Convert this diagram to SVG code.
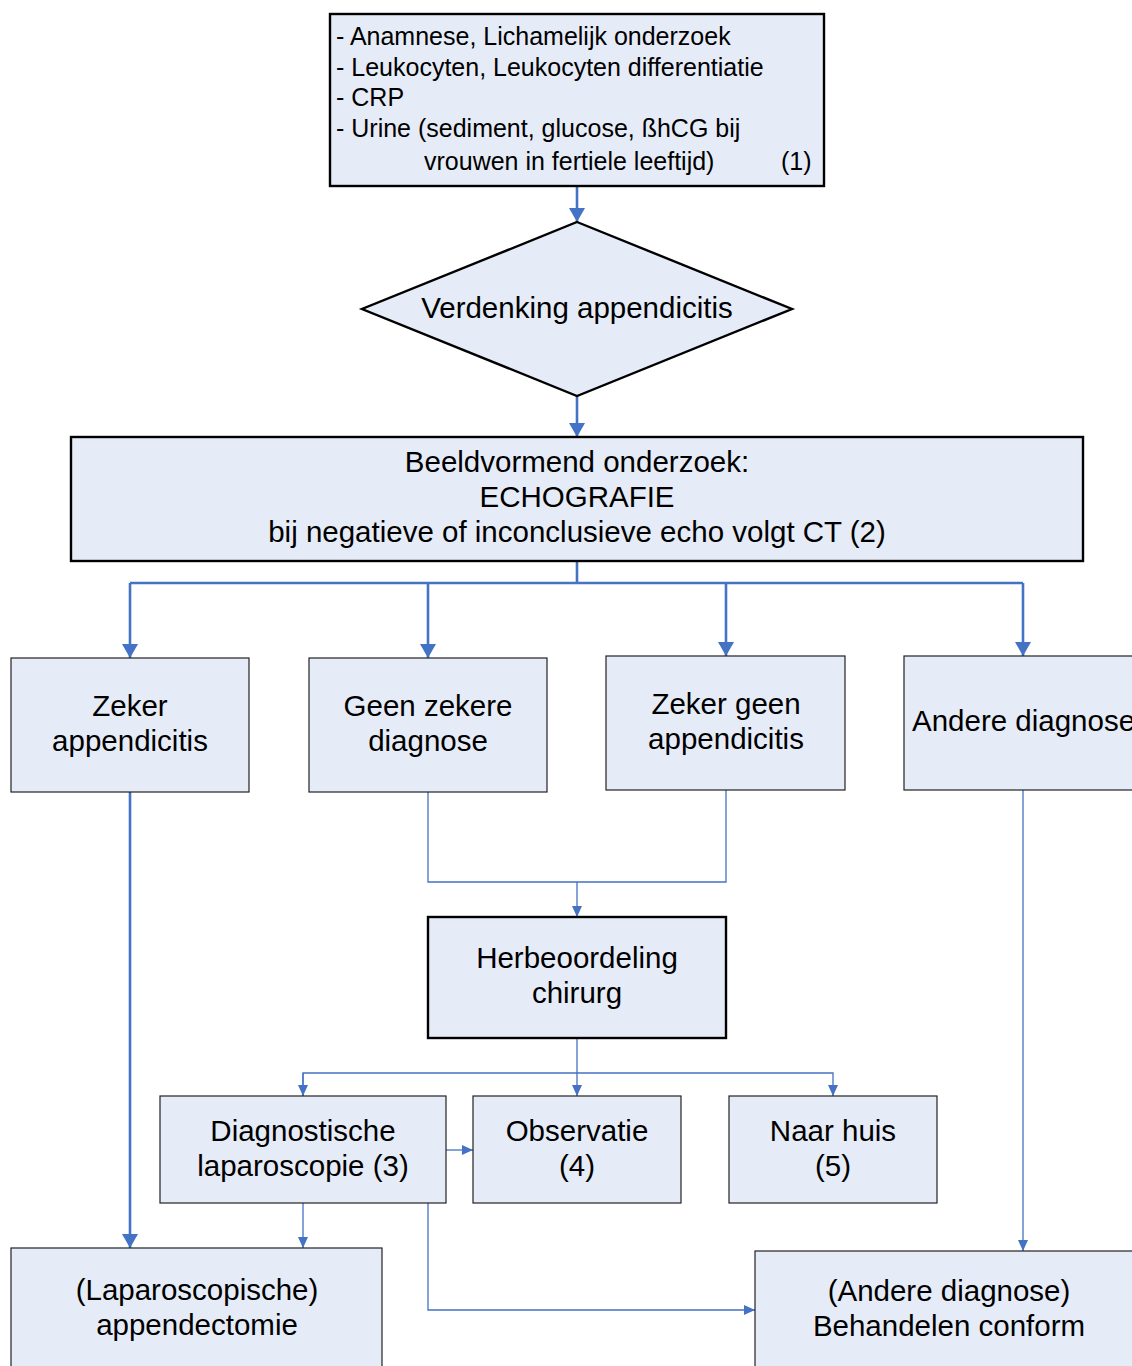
<svg xmlns="http://www.w3.org/2000/svg" width="1132" height="1366" viewBox="0 0 1132 1366">
<style>
.box{fill:#E6ECF7;stroke:#222;stroke-width:1.2}
.bold{fill:#E6ECF7;stroke:#000;stroke-width:2.4}
text{font-family:"Liberation Sans",Arial,sans-serif;fill:#000}
.t{font-size:29.5px;text-anchor:middle}
.s{font-size:25px}
.c{fill:none;stroke:#4472C4}
.thick{stroke-width:2.6}
.thin{stroke-width:1.3}
</style>
<defs>
<marker id="ab" viewBox="0 0 14 16" refX="14" refY="8" markerWidth="14" markerHeight="16" markerUnits="userSpaceOnUse" orient="auto">
<path d="M0,0 L14,8 L0,16 Z" fill="#4472C4"/>
</marker>
<marker id="as" viewBox="0 0 11 10" refX="11" refY="5" markerWidth="11" markerHeight="10" markerUnits="userSpaceOnUse" orient="auto">
<path d="M0,0 L11,5 L0,10 Z" fill="#4472C4"/>
</marker>
</defs>
<rect width="1132" height="1366" fill="#fff"/>
<g id="connectors">
<path class="c thick" d="M577,186 V222" marker-end="url(#ab)"/>
<path class="c thick" d="M577,396 V437" marker-end="url(#ab)"/>
<path class="c thick" d="M577,561 V583 M130,583 H1023"/>
<path class="c thick" d="M130,583 V658" marker-end="url(#ab)"/>
<path class="c thick" d="M428,583 V658" marker-end="url(#ab)"/>
<path class="c thick" d="M726,583 V656" marker-end="url(#ab)"/>
<path class="c thick" d="M1023,583 V656" marker-end="url(#ab)"/>
<path class="c thin" d="M428,792 V882 H726 V790"/>
<path class="c thin" d="M577,882 V917" marker-end="url(#as)"/>
<path class="c thin" d="M577,1038 V1096" marker-end="url(#as)"/>
<path class="c thin" d="M303,1096 V1073 H833 V1096" marker-end="url(#as)"/>
<path class="c thin" d="M303,1073 V1096" marker-end="url(#as)"/>
<path class="c thin" d="M446,1150 H473" marker-end="url(#as)"/>
<path class="c thin" d="M303,1203 V1248" marker-end="url(#as)"/>
<path class="c thin" d="M428,1203 V1310 H755" marker-end="url(#as)"/>
<path class="c thick" d="M130,792 V1248" marker-end="url(#ab)"/>
<path class="c thin" d="M1023,790 V1251" marker-end="url(#as)"/>
</g>
<g id="n1">
<rect class="bold" x="330" y="14" width="494" height="172"/>
<text class="s" x="336" y="45">-  Anamnese, Lichamelijk onderzoek</text>
<text class="s" x="336" y="76">- Leukocyten, Leukocyten differentiatie</text>
<text class="s" x="336" y="106">- CRP</text>
<text class="s" x="336" y="137">- Urine (sediment, glucose, ßhCG bij</text>
<text class="s" x="424" y="170">vrouwen in fertiele leeftijd)</text>
<text class="s" x="781" y="170">(1)</text>
</g>
<g id="n2">
<polygon points="577,222 792,309 577,396 362,309" fill="#E6ECF7" stroke="#000" stroke-width="2.4"/>
<text class="t" x="577" y="318">Verdenking appendicitis</text>
</g>
<g id="n3">
<rect class="bold" x="71" y="437" width="1012" height="124"/>
<text class="t" x="577" y="472">Beeldvormend onderzoek:</text>
<text class="t" x="577" y="507">ECHOGRAFIE</text>
<text class="t" x="577" y="542">bij negatieve of inconclusieve echo volgt CT (2)</text>
</g>
<g id="n4">
<rect class="box" x="11" y="658" width="238" height="134"/>
<text class="t" x="130" y="716">Zeker</text>
<text class="t" x="130" y="751">appendicitis</text>
</g>
<g id="n5">
<rect class="box" x="309" y="658" width="238" height="134"/>
<text class="t" x="428" y="716">Geen zekere</text>
<text class="t" x="428" y="751">diagnose</text>
</g>
<g id="n6">
<rect class="box" x="606" y="656" width="239" height="134"/>
<text class="t" x="726" y="714">Zeker geen</text>
<text class="t" x="726" y="749">appendicitis</text>
</g>
<g id="n7">
<rect class="box" x="904" y="656" width="240" height="134"/>
<text class="t" x="912" y="731" style="text-anchor:start">Andere diagnose</text>
</g>
<g id="n8">
<rect class="bold" x="428" y="917" width="298" height="121"/>
<text class="t" x="577" y="968">Herbeoordeling</text>
<text class="t" x="577" y="1003">chirurg</text>
</g>
<g id="n9">
<rect class="box" x="160" y="1096" width="286" height="107"/>
<text class="t" x="303" y="1141">Diagnostische</text>
<text class="t" x="303" y="1176">laparoscopie (3)</text>
</g>
<g id="n10">
<rect class="box" x="473" y="1096" width="208" height="107"/>
<text class="t" x="577" y="1141">Observatie</text>
<text class="t" x="577" y="1176">(4)</text>
</g>
<g id="n11">
<rect class="box" x="729" y="1096" width="208" height="107"/>
<text class="t" x="833" y="1141">Naar huis</text>
<text class="t" x="833" y="1176">(5)</text>
</g>
<g id="n12">
<rect class="box" x="11" y="1248" width="371" height="130"/>
<text class="t" x="197" y="1300">(Laparoscopische)</text>
<text class="t" x="197" y="1335">appendectomie</text>
</g>
<g id="n13">
<rect class="box" x="755" y="1251" width="390" height="130"/>
<text class="t" x="949" y="1301">(Andere diagnose)</text>
<text class="t" x="949" y="1336">Behandelen conform</text>
</g>
</svg>
